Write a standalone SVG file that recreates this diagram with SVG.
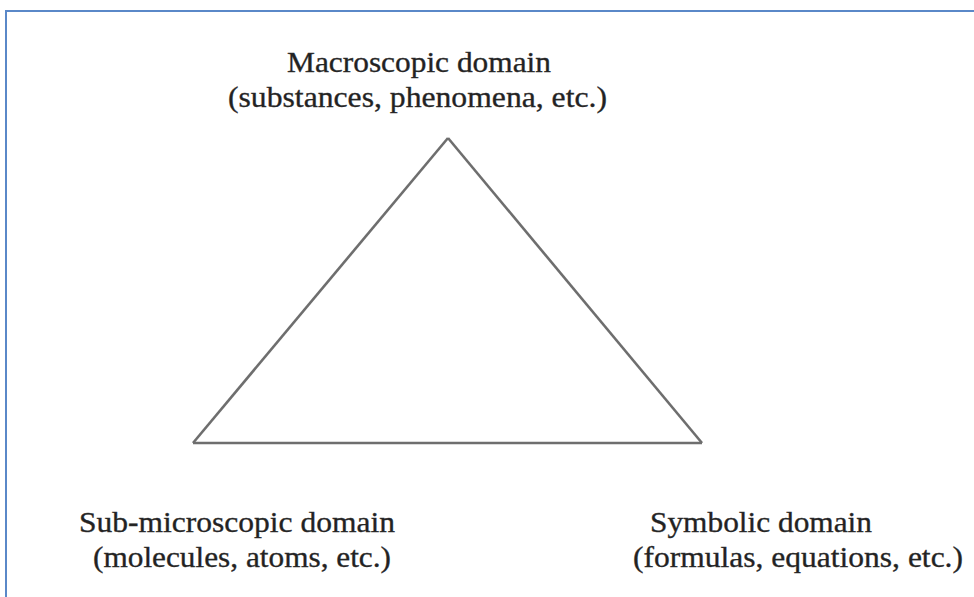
<svg xmlns="http://www.w3.org/2000/svg" width="974" height="597" viewBox="0 0 974 597">
<style>
.lbl{font-family:"Liberation Serif","Times New Roman",serif;font-size:30px;fill:#222222;stroke:#333333;stroke-width:0.35}
.edge{fill:none;stroke:#6e6e6e;stroke-width:2.6;stroke-linejoin:miter}
</style>
<rect width="974" height="597" fill="#ffffff"/>
<path d="M6,600 V11 H980" fill="none" stroke="#5a88c8" stroke-width="2"/>
<g id="connectors">
<line class="edge" x1="448" y1="138" x2="193" y2="443"/>
<line class="edge" x1="448" y1="138" x2="702" y2="443"/>
<line class="edge" x1="193" y1="443" x2="702" y2="443"/>
</g>
<g id="macroscopic">
<text class="lbl" x="287" y="72" textLength="264" lengthAdjust="spacingAndGlyphs">Macroscopic  domain</text>
<text class="lbl" x="228" y="107" textLength="379" lengthAdjust="spacingAndGlyphs">(substances, phenomena,  etc.)</text>
</g>
<g id="submicroscopic">
<text class="lbl" x="79" y="532" textLength="316" lengthAdjust="spacingAndGlyphs">Sub-microscopic  domain</text>
<text class="lbl" x="93" y="567" textLength="298" lengthAdjust="spacingAndGlyphs">(molecules, atoms, etc.)</text>
</g>
<g id="symbolic">
<text class="lbl" x="650" y="532" textLength="222" lengthAdjust="spacingAndGlyphs">Symbolic  domain</text>
<text class="lbl" x="633" y="567" textLength="330" lengthAdjust="spacingAndGlyphs">(formulas, equations, etc.)</text>
</g>
</svg>
